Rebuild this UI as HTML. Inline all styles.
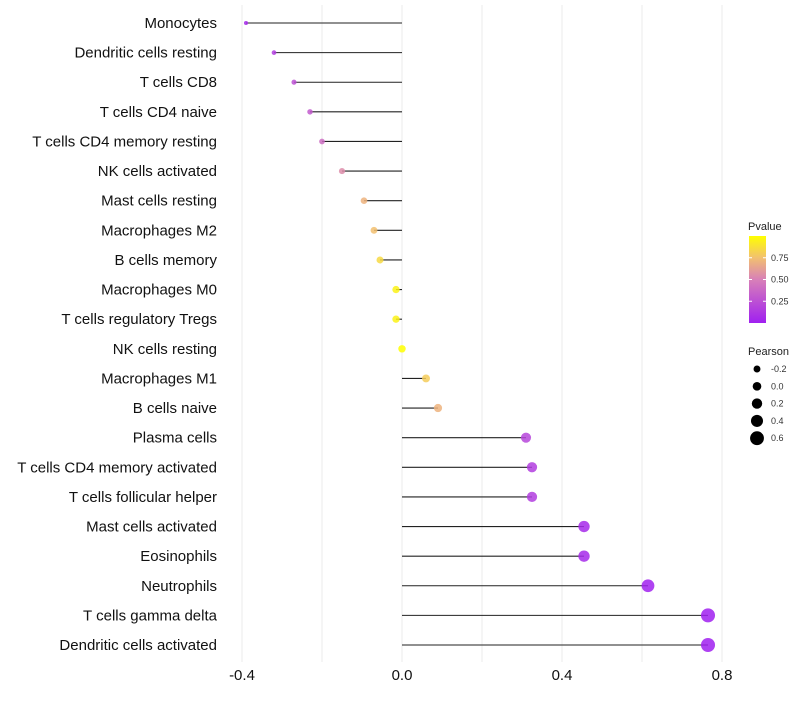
<!DOCTYPE html>
<html><head><meta charset="utf-8"><style>
body{margin:0;background:#fff;font-family:"Liberation Sans",sans-serif}
</style></head><body>
<svg id="c" width="800" height="700">
<defs><linearGradient id="g" x1="0" y1="1" x2="0" y2="0">
<stop offset="0" stop-color="#A020F0"/><stop offset="0.5" stop-color="#D880B8"/><stop offset="0.75" stop-color="#F2C070"/><stop offset="1" stop-color="#FFFF00"/></linearGradient></defs>
</svg>
<script>
const categories=["Monocytes","Dendritic cells resting","T cells CD8","T cells CD4 naive","T cells CD4 memory resting","NK cells activated","Mast cells resting","Macrophages M2","B cells memory","Macrophages M0","T cells regulatory  Tregs ","NK cells resting","Macrophages M1","B cells naive","Plasma cells","T cells CD4 memory activated","T cells follicular helper","Mast cells activated","Eosinophils","Neutrophils","T cells gamma delta","Dendritic cells activated"];
const pearson=[-0.39,-0.32,-0.27,-0.23,-0.2,-0.15,-0.095,-0.07,-0.055,-0.015,-0.015,0.0,0.06,0.09,0.31,0.325,0.325,0.455,0.455,0.615,0.765,0.765];
const pvalue=[0.05,0.15,0.25,0.3,0.4,0.55,0.7,0.75,0.85,0.95,0.95,1.0,0.8,0.7,0.2,0.15,0.15,0.05,0.05,0.01,0.0,0.0];
const xTicks=[-0.4,0.0,0.4,0.8];
const gridVals=[-0.4,-0.2,0,0.2,0.4,0.6,0.8];
const sizeLegend=[-0.2,0.0,0.2,0.4,0.6];
const colorTicks=[0.25,0.5,0.75];
const svg=document.getElementById('c');const NS='http://www.w3.org/2000/svg';
function mk(t,a,p){const e=document.createElementNS(NS,t);for(const k in a)e.setAttribute(k,a[k]);(p||svg).appendChild(e);return e;}
const xs=v=>402+v*400;
const ys=i=>23+i*(645-23)/(categories.length-1);
const rs=v=>2+(v+0.4)*(5/1.16);
function lerp(a,b,t){return a.map((x,i)=>Math.round(x+(b[i]-x)*t));}
function col(p){const st=[[0,[160,32,240]],[0.5,[216,128,184]],[0.75,[242,192,112]],[1,[255,255,0]]];
for(let i=1;i<st.length;i++)if(p<=st[i][0]){const t=(p-st[i-1][0])/(st[i][0]-st[i-1][0]);return 'rgb('+lerp(st[i-1][1],st[i][1],t)+')';}return 'rgb(255,255,0)';}
gridVals.forEach(v=>{const l=mk('line',{x1:xs(v),x2:xs(v),y1:5,y2:662,stroke:'#ebebeb','stroke-width':1});

});
categories.forEach((c,i)=>{const y=ys(i);
const t=mk('text',{x:217,y:y+5,'text-anchor':'end','font-size':15,fill:'#111'});t.textContent=c;


const l=mk('line',{x1:xs(0),x2:xs(pearson[i]),y1:y,y2:y,stroke:'#222','stroke-width':1.1});


const d=mk('circle',{cx:xs(pearson[i]),cy:y,r:rs(pearson[i]),fill:col(pvalue[i]),'fill-opacity':0.85});

});
xTicks.forEach(v=>{const t=mk('text',{x:xs(v),y:680,'text-anchor':'middle','font-size':15,fill:'#111'});t.textContent=v.toFixed(1);

});
const lt=mk('text',{x:748,y:230,'font-size':11,fill:'#222'});lt.textContent='Pvalue';


const cb=mk('rect',{x:749,y:236,width:17,height:87,fill:'url(#g)'});


colorTicks.forEach(v=>{const y=323-v*87;mk('line',{x1:749,x2:752,y1:y,y2:y,stroke:'#fff'});mk('line',{x1:763,x2:766,y1:y,y2:y,stroke:'#fff'});
const t=mk('text',{x:771,y:y+3,'font-size':9,fill:'#333'});t.textContent=v.toFixed(2);

});
const st=mk('text',{x:748,y:355,'font-size':11,fill:'#222'});st.textContent='Pearson';


sizeLegend.forEach((v,i)=>{const y=369+i*17.3;const c=mk('circle',{cx:757,cy:y,r:rs(v)+0.6,fill:'#000'});


const t=mk('text',{x:771,y:y+3,'font-size':9,fill:'#333'});t.textContent=v.toFixed(1);

});
</script>
</body></html>
